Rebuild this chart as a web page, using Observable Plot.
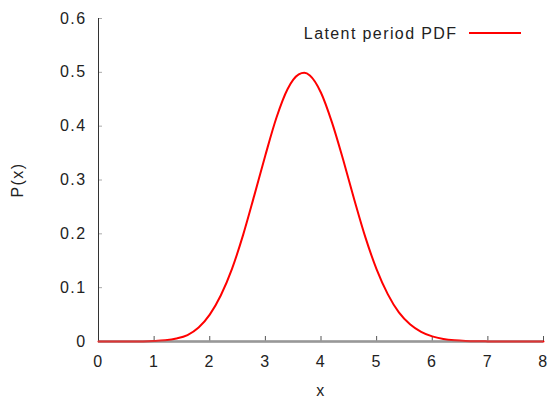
<!DOCTYPE html>
<html>
<head>
<meta charset="utf-8">
<script src="https://cdn.jsdelivr.net/npm/d3@7"></script>
<script src="https://cdn.jsdelivr.net/npm/@observablehq/plot@0.6"></script>
<style>
  html, body { margin: 0; padding: 0; background: #fff; }
  #chart svg { display: block; }
</style>
</head>
<body>
<div id="chart"></div>
<script>
// Values
const xValues = [0, 0.4, 0.8, 1.0, 1.2, 1.4, 1.6, 1.8, 2.0, 2.2, 2.4, 2.6, 2.8, 3.0, 3.2, 3.4, 3.6, 3.7, 3.8, 4.0, 4.2, 4.4, 4.6, 4.8, 5.0, 5.2, 5.4, 5.6, 5.8, 6.0, 6.2, 6.4, 6.6, 6.8, 7.0, 7.5, 8.0];
const pdfValues = [0, 0, 0.0002, 0.0008, 0.0022, 0.0055, 0.012, 0.026, 0.050, 0.086, 0.135, 0.198, 0.271, 0.346, 0.416, 0.469, 0.496, 0.499, 0.494, 0.462, 0.406, 0.337, 0.263, 0.193, 0.134, 0.088, 0.054, 0.032, 0.018, 0.0095, 0.0048, 0.0023, 0.001, 0.0004, 0.0002, 0, 0];
const xTicks = [0, 1, 2, 3, 4, 5, 6, 7, 8];
const yTicks = [0, 0.1, 0.2, 0.3, 0.4, 0.5, 0.6];
const seriesName = "Latent period PDF";
const xLabel = "x";
const yLabel = "P(x)";

const data = xValues.map((x, i) => ({x, y: pdfValues[i]}));

const font = "'Liberation Sans', Arial, sans-serif";
const marginLeft = 98, marginRight = 7, marginTop = 18, marginBottom = 56;
const W = 550, H = 397;

const chart = Plot.plot({
  width: W,
  height: H,
  marginLeft, marginRight, marginTop, marginBottom,
  style: {fontFamily: font, fontSize: "16px", background: "#fff", color: "#222", letterSpacing: "1.4px"},
  x: {domain: [0, 8]},
  y: {domain: [0, 0.6]},
  marks: [
    Plot.axisX({ticks: xTicks, tickSize: -5, tickPadding: 19, stroke: "#555", tickFormat: d => String(d), label: null}),
    Plot.axisY({ticks: yTicks, tickSize: -4, tickPadding: 16, stroke: "#aaa", tickFormat: d => String(d), label: null}),
    Plot.axisX({ticks: [], label: xLabel, labelAnchor: "center", labelArrow: "none", labelOffset: 54, tickSize: 0}),
    Plot.axisY({ticks: [], label: yLabel, labelAnchor: "center", labelArrow: "none", labelOffset: 87, tickSize: 0}),
    Plot.ruleY([0], {stroke: "#999", strokeWidth: 2.5}),
    Plot.ruleX([0], {stroke: "#333", strokeWidth: 1}),
    Plot.line(data, {x: "x", y: "y", stroke: "#ff0000", strokeWidth: 2, curve: "monotone-x"}),
    Plot.ruleY([0], {stroke: "#999", strokeWidth: 2.5, strokeOpacity: 0.35}),
    Plot.text([seriesName], {frameAnchor: "top-right", dx: -86, dy: 15, textAnchor: "end", lineAnchor: "middle", fill: "#222", fontSize: 16})
  ]
});

// Legend line sample next to the legend text
const svg = d3.select(chart);
const lx2 = W - marginRight - 22;
svg.append("line")
  .attr("x1", lx2 - 52).attr("x2", lx2)
  .attr("y1", marginTop + 15).attr("y2", marginTop + 15)
  .attr("stroke", "#ff0000").attr("stroke-width", 2);

document.getElementById("chart").appendChild(chart);
</script>
</body>
</html>
